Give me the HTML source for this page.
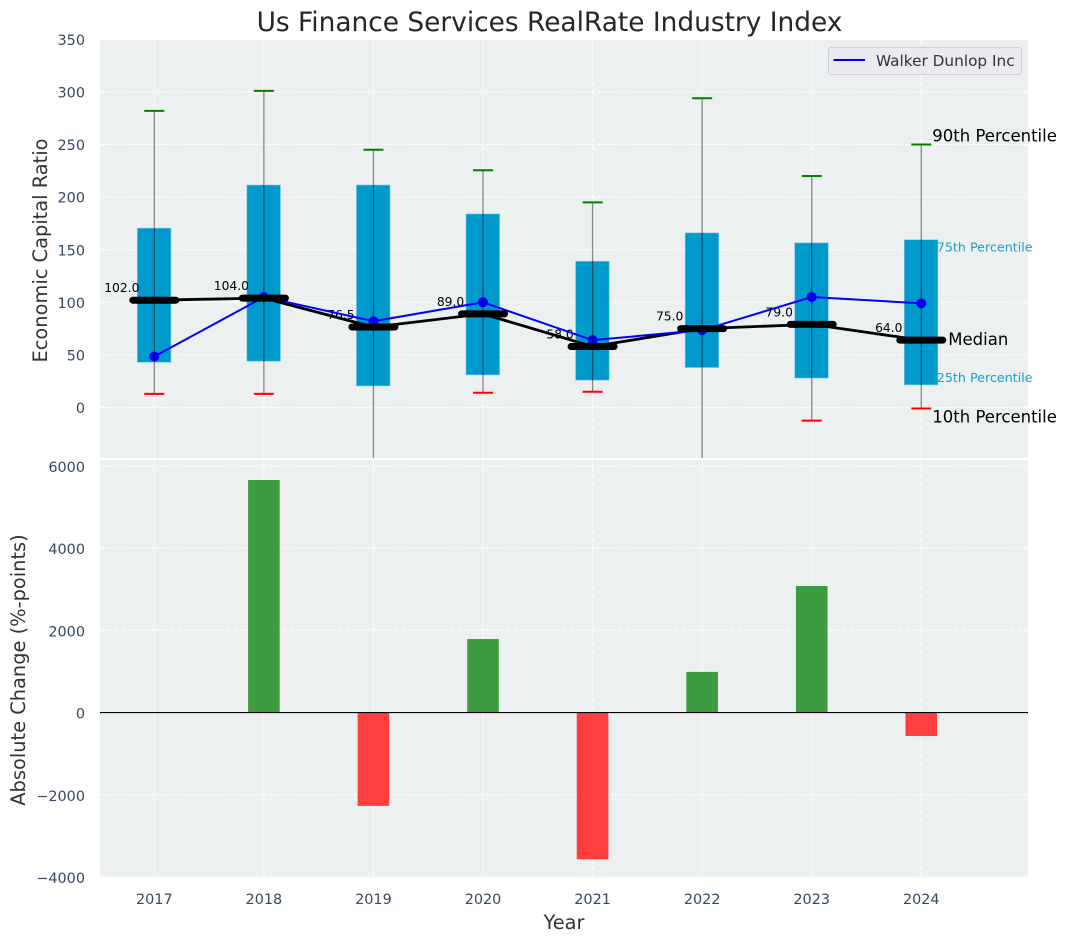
<!DOCTYPE html>
<html>
<head>
<meta charset="utf-8">
<title>Us Finance Services RealRate Industry Index</title>
<style>
html,body{margin:0;padding:0;background:#fff;}
svg{display:block;font-family:"DejaVu Sans","Liberation Sans",sans-serif;}
</style>
</head>
<body>
<svg id="chart" xmlns="http://www.w3.org/2000/svg" width="1067" height="942" viewBox="0 0 1067 942">
  <defs>
    <clipPath id="top-clip"><rect x="100" y="40" width="928" height="418"></rect></clipPath>
  </defs>
  <rect x="100" y="40" width="928" height="418" fill="#ecf0f1"></rect>
  <rect x="100" y="460" width="928" height="417.5" fill="#ecf0f1"></rect>
  <g id="grid"></g>
  <g id="top-marks" clip-path="url(#top-clip)"></g>
  <g id="bottom-marks"></g>
  <g id="ticks"></g>
  <text x="549.5" y="31" text-anchor="middle" font-size="26.4" fill="#262626">Us Finance Services RealRate Industry Index</text>
  <text transform="translate(47,250.5) rotate(-90)" text-anchor="middle" font-size="19.4" fill="#333">Economic Capital Ratio</text>
  <text transform="translate(25,670) rotate(-90)" text-anchor="middle" font-size="19.4" fill="#333">Absolute Change (%-points)</text>
  <text x="564" y="929" text-anchor="middle" font-size="19.4" fill="#333">Year</text>
  <g>
    <rect x="828.5" y="47.5" width="193" height="27" rx="3" fill="#eaeaf2" stroke="#cfcfd4" stroke-width="1"></rect>
    <line x1="833.5" x2="865" y1="60" y2="60" stroke="#0000ff" stroke-width="2"></line>
    <text x="876" y="66" font-size="15.3" fill="#333">Walker Dunlop Inc</text>
  </g>
  <g id="annotations"></g>
</svg>
<script>
var years = [2017, 2018, 2019, 2020, 2021, 2022, 2023, 2024];
var p90 = [282, 301, 245, 225.5, 195, 294, 220, 250];
var p75 = [170.5, 211.5, 211.5, 184, 139, 166, 156.5, 159.5];
var medians = [102, 104, 76.5, 89, 58, 75, 79, 64];
var p25 = [43, 44, 20.5, 31, 26, 38, 28, 21.5];
var p10 = [13, 13, -70, 14, 15, -70, -12.5, -1];
var company = [48.5, 105, 82, 100, 64, 73.5, 105, 99];
var changes = [null, 5660, -2270, 1790, -3570, 990, 3080, -570];
var topTicks = [350, 300, 250, 200, 150, 100, 50, 0];
var bottomTicks = [6000, 4000, 2000, 0, -2000, -4000];

function xS(year) { return 154.3 + (year - 2017) * 109.57; }
function yTop(v) { return 407.5 - v * 1.052; }
function yBottom(v) { return 712.6 - v * 0.0411; }

var NS = 'http://www.w3.org/2000/svg';
function mk(parent, tag, props) {
  var el = document.createElementNS(NS, tag);
  for (var k in props) { el.setAttribute(k, props[k]); }
  parent.appendChild(el);
  return el;
}

var grid = document.getElementById('grid');
var topG = document.getElementById('top-marks');
var botG = document.getElementById('bottom-marks');
var ticks = document.getElementById('ticks');
var ann = document.getElementById('annotations');
var gridStyle = {stroke: '#ffffff', 'stroke-width': 1.1, 'stroke-dasharray': '5 2', 'stroke-opacity': 0.85};

function styled(props) {
  for (var k in gridStyle) { props[k] = gridStyle[k]; }
  return props;
}

topTicks.forEach(function (t) {
  var g = mk(grid, 'line', styled({x1: 100, x2: 1028, y1: yTop(t), y2: yTop(t)}));
  
  
  var lab = mk(ticks, 'text', {x: 85, y: yTop(t) + 5.6, 'text-anchor': 'end', 'font-size': 14.4, fill: '#34495e'});
  lab.textContent = String(t);
  
  
});

bottomTicks.forEach(function (t) {
  var g = mk(grid, 'line', styled({x1: 100, x2: 1028, y1: yBottom(t), y2: yBottom(t)}));
  
  
  var lab = mk(ticks, 'text', {x: 85, y: yBottom(t) + 6, 'text-anchor': 'end', 'font-size': 14.4, fill: '#34495e'});
  lab.textContent = String(t).replace('-', '\u2212');
  
  
});

years.forEach(function (yr) {
  var x = xS(yr);
  var g1 = mk(grid, 'line', styled({x1: x, x2: x, y1: 40, y2: 458}));
  
  
  var g2 = mk(grid, 'line', styled({x1: x, x2: x, y1: 460, y2: 877.5}));
  
  
  var lab = mk(ticks, 'text', {x: x, y: 904, 'text-anchor': 'middle', 'font-size': 14.4, fill: '#34495e'});
  lab.textContent = String(yr);
  
  
});

/* boxes */
years.forEach(function (yr, i) {
  var box = mk(topG, 'rect', {x: xS(yr) - 17, y: yTop(p75[i]), width: 33.6, height: yTop(p25[i]) - yTop(p75[i]), fill: '#0099cc', stroke: '#7fcbe4', 'stroke-width': 0.6});
  
  
});

/* median value labels */
years.forEach(function (yr, i) {
  var t = mk(topG, 'text', {x: xS(yr) - 32.5, y: yTop(medians[i]) - 8, 'text-anchor': 'middle', 'font-size': 12.3, fill: '#000'});
  t.textContent = medians[i].toFixed(1);
  
  
});

/* median connecting line */
var medianPts = years.map(function (yr, i) { return xS(yr) + ',' + yTop(medians[i]); }).join(' ');
var medianLine = mk(topG, 'polyline', {points: medianPts, fill: 'none', stroke: '#000', 'stroke-width': 2.8});



/* company series */
var companyPts = years.map(function (yr, i) { return xS(yr) + ',' + yTop(company[i]); }).join(' ');
var companyLine = mk(topG, 'polyline', {points: companyPts, fill: 'none', stroke: '#0000ff', 'stroke-width': 2});



years.forEach(function (yr, i) {
  var c = mk(topG, 'circle', {cx: xS(yr), cy: yTop(company[i]), r: 5, fill: '#0000ff'});
  
  
});

/* median bars sit above the company series */
years.forEach(function (yr, i) {
  var m = mk(topG, 'line', {x1: xS(yr) - 21.5, x2: xS(yr) + 21.5, y1: yTop(medians[i]), y2: yTop(medians[i]), stroke: '#000', 'stroke-width': 7, 'stroke-linecap': 'round'});
  
  
});

/* whiskers and caps */
years.forEach(function (yr, i) {
  var x = xS(yr);
  var w = mk(topG, 'line', {x1: x, x2: x, y1: yTop(p90[i]), y2: yTop(p10[i]), stroke: '#000', 'stroke-opacity': 0.45, 'stroke-width': 1.3});
  
  
  var hi = mk(topG, 'line', {x1: x - 10, x2: x + 10, y1: yTop(p90[i]), y2: yTop(p90[i]), stroke: '#008000', 'stroke-width': 2});
  
  
  var lo = mk(topG, 'line', {x1: x - 10, x2: x + 10, y1: yTop(p10[i]), y2: yTop(p10[i]), stroke: '#ff0000', 'stroke-width': 2});
  
  
});

/* change bars */
years.forEach(function (yr, i) {
  if (changes[i] === null) { return; }
  var v = changes[i];
  var y0 = yBottom(Math.max(v, 0));
  var y1 = yBottom(Math.min(v, 0));
  var b = mk(botG, 'rect', {x: xS(yr) - 15.8, y: y0, width: 31.6, height: y1 - y0, fill: v >= 0 ? '#3d9c3f' : '#ff3e3e'});
  
  
});

var zeroLine = mk(botG, 'line', {x1: 100, x2: 1028, y1: yBottom(0), y2: yBottom(0), stroke: '#000', 'stroke-width': 1.1});



/* annotations anchored to the last year */
var last = years.length - 1;
var xLast = xS(years[last]);

var a90 = mk(ann, 'text', {x: xLast + 11, y: yTop(p90[last]) - 3, 'font-size': 16.5, fill: '#000'});
a90.textContent = '90th Percentile';



var a75 = mk(ann, 'text', {x: xLast + 15.5, y: yTop(p75[last]) + 12, 'font-size': 12.7, fill: '#1a9ecc'});
a75.textContent = '75th Percentile';



var aMed = mk(ann, 'text', {x: xLast + 27, y: yTop(medians[last]) + 5, 'font-size': 16.5, fill: '#000'});
aMed.textContent = 'Median';



var a25 = mk(ann, 'text', {x: xLast + 15.5, y: yTop(p25[last]) - 3, 'font-size': 12.7, fill: '#1a9ecc'});
a25.textContent = '25th Percentile';



var a10 = mk(ann, 'text', {x: xLast + 11, y: yTop(p10[last]) + 14, 'font-size': 16.5, fill: '#000'});
a10.textContent = '10th Percentile';


</script>
</body>
</html>
